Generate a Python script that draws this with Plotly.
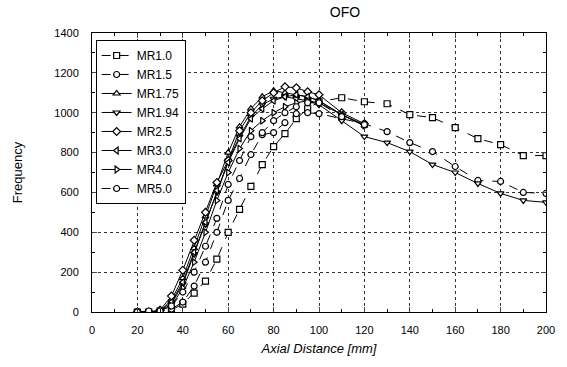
import plotly.graph_objects as go

# ---- data ----
x_short = [20, 25, 30, 35, 40, 45, 50, 55, 60, 65, 70, 75, 80, 85, 90, 95, 100, 110, 120]
x_long = x_short + [130, 140, 150, 160, 170, 180, 190, 200]

mr10 = [0, 0, 5, 10, 40, 95, 155, 265, 400, 515, 630, 740, 830, 895, 970, 1020, 1055, 1075, 1055,
        1045, 990, 975, 925, 870, 840, 785, 785]
mr15 = [0, 0, 0, 15, 50, 130, 250, 400, 560, 670, 790, 890, 900, 950, 995, 1000, 995, 970, 945,
        905, 850, 805, 730, 660, 655, 600, 595]
mr175 = [0, 0, 5, 60, 170, 320, 480, 640, 800, 930, 1020, 1080, 1110, 1100, 1090, 1080, 1060, 990, 935]
mr194 = [0, 0, 5, 40, 140, 290, 440, 600, 760, 880, 980, 1040, 1070, 1080, 1070, 1060, 1040, 960, 880,
         850, 805, 740, 700, 645, 595, 560, 550]
mr25 = [0, 0, 10, 80, 210, 360, 500, 650, 760, 910, 1000, 1060, 1100, 1130, 1125, 1105, 1090, 1000, 945]
mr30 = [0, 0, 5, 50, 150, 300, 450, 610, 750, 870, 970, 1020, 1060, 1080, 1090, 1080, 1060, 990, 940]
mr40 = [0, 0, 5, 30, 120, 250, 400, 560, 700, 820, 910, 960, 1000, 1030, 1050, 1060, 1050, 990, 935]
mr50 = [0, 5, 5, 30, 100, 200, 330, 470, 640, 760, 880, 900, 960, 1000, 1030, 1050, 1050, 980, 940]

series = [
    ("MR1.0", x_long, mr10, "square", "dash"),
    ("MR1.5", x_long, mr15, "circle", "dash"),
    ("MR1.75", x_short, mr175, "triangle-up", "solid"),
    ("MR1.94", x_long, mr194, "triangle-down", "solid"),
    ("MR2.5", x_short, mr25, "diamond", "solid"),
    ("MR3.0", x_short, mr30, "triangle-left", "solid"),
    ("MR4.0", x_short, mr40, "triangle-right", "solid"),
    ("MR5.0", x_short, mr50, "circle", "dash"),
]

x_ticks = list(range(0, 201, 20))
y_ticks = list(range(0, 1401, 200))

FONT = "Arial, Liberation Sans, sans-serif"

fig = go.Figure()
for name, xs, ys, sym, dash in series:
    fig.add_trace(go.Scatter(
        x=xs, y=ys, name=name, mode="lines+markers",
        line=dict(color="black", width=1, dash=dash),
        marker=dict(symbol=sym, size=6, color="white",
                    line=dict(color="black", width=1.2)),
    ))

fig.update_layout(
    width=567, height=367,
    margin=dict(l=92, r=17, t=33, b=55),
    paper_bgcolor="white", plot_bgcolor="white",
    font=dict(family=FONT, size=11, color="black"),
    title=dict(text="OFO", x=345 / 567, xanchor="center",
               y=1 - 12 / 367, yanchor="middle", font=dict(size=14)),
    showlegend=True,
    legend=dict(x=0.008, y=0.975, xanchor="left", yanchor="top",
                bgcolor="white", bordercolor="black", borderwidth=1,
                font=dict(size=12), tracegroupgap=0, itemwidth=30),
)
fig.update_xaxes(
    range=[0, 200], tickvals=x_ticks, ticks="inside", ticklen=5, mirror="ticks",
    ticklabelstandoff=8,
    showline=True, linecolor="black", linewidth=1,
    showgrid=True, gridcolor="#333", griddash="dot", gridwidth=1,
    minor=dict(dtick=10, ticks="inside", ticklen=3, showgrid=False, tickcolor="black"),
    zeroline=False,
    title=dict(text="<i>Axial Distance [mm]</i>", font=dict(size=13), standoff=8),
)
fig.update_yaxes(
    range=[0, 1400], tickvals=y_ticks, ticks="inside", ticklen=5, mirror="ticks",
    ticklabelstandoff=10,
    showline=True, linecolor="black", linewidth=1,
    showgrid=True, gridcolor="#333", griddash="dot", gridwidth=1,
    minor=dict(dtick=100, ticks="inside", ticklen=3, showgrid=False, tickcolor="black"),
    zeroline=False,
    title=dict(text="Frequency", font=dict(size=13), standoff=28),
)

fig.write_html("out.html")
